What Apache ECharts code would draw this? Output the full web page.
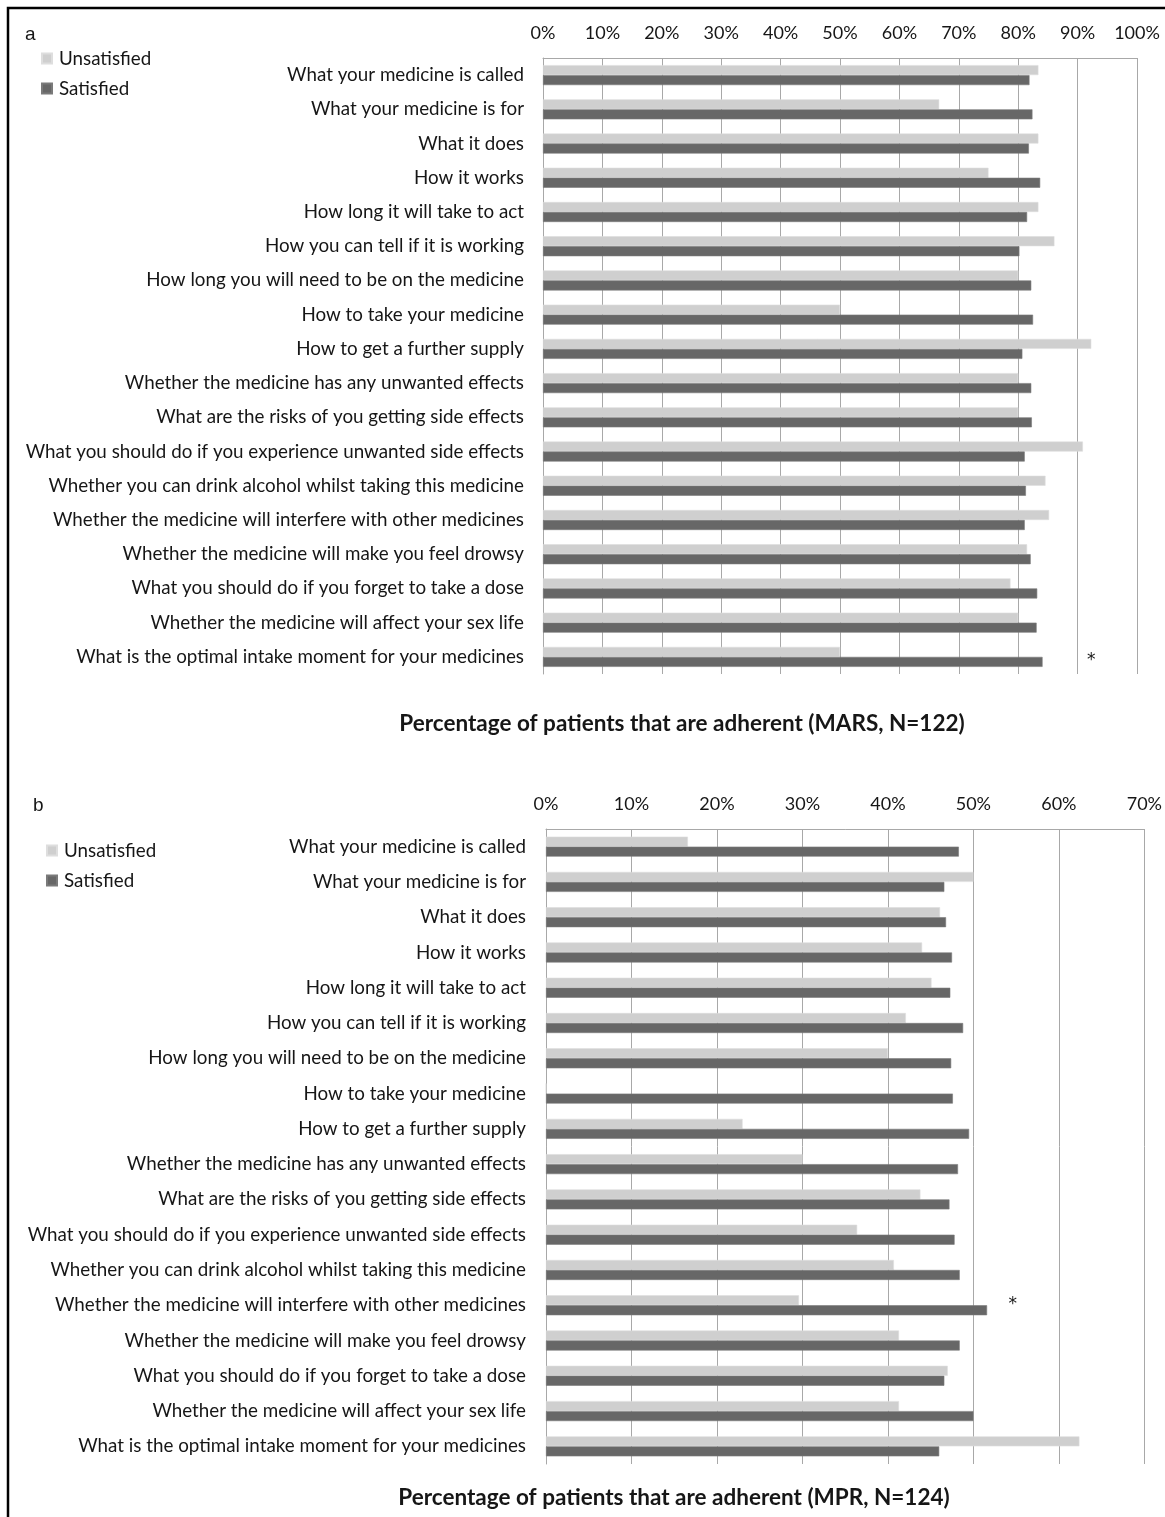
<!DOCTYPE html>
<html>
<head>
<meta charset="utf-8">
<title>Adherence by satisfaction with medicine information</title>
<script src="https://cdn.jsdelivr.net/npm/echarts@6/dist/echarts.min.js"></script>
<style>
  html, body { margin: 0; padding: 0; background: #fff; }
  #chart { width: 1165px; height: 1517px; }
</style>
</head>
<body>
<div id="chart"></div>
<script>
// Information items asked about in the questionnaire (top to bottom)
const categories = [
  'What your medicine is called',
  'What your medicine is for',
  'What it does',
  'How it works',
  'How long it will take to act',
  'How you can tell if it is working',
  'How long you will need to be on the medicine',
  'How to take your medicine',
  'How to get a further supply',
  'Whether the medicine has any unwanted effects',
  'What are the risks of you getting side effects',
  'What you should do if you experience unwanted side effects',
  'Whether you can drink alcohol whilst taking this medicine',
  'Whether the medicine will interfere with other medicines',
  'Whether the medicine will make you feel drowsy',
  'What you should do if you forget to take a dose',
  'Whether the medicine will affect your sex life',
  'What is the optimal intake moment for your medicines'
];

const seriesNames = ['Unsatisfied', 'Satisfied'];

// Panel a: % adherent by MARS (N=122)
const marsUnsatisfied = [83.4, 66.7, 83.4, 75.0, 83.4, 86.1, 80.0, 50.0, 92.3, 80.0, 80.0, 90.9, 84.6, 85.2, 81.5, 78.7, 80.0, 50.0];
const marsSatisfied   = [81.9, 82.4, 81.8, 83.7, 81.5, 80.2, 82.2, 82.5, 80.7, 82.2, 82.3, 81.1, 81.3, 81.1, 82.1, 83.2, 83.1, 84.1];

// Panel b: % adherent by MPR (N=124)
const mprUnsatisfied = [16.6, 50.0, 46.1, 44.0, 45.1, 42.1, 40.0, 0, 23.0, 30.0, 43.8, 36.4, 40.7, 29.6, 41.3, 47.0, 41.3, 62.4];
const mprSatisfied   = [48.3, 46.6, 46.8, 47.5, 47.3, 48.8, 47.4, 47.6, 49.5, 48.2, 47.2, 47.8, 48.4, 51.6, 48.4, 46.6, 50.0, 46.0];

// Axis ranges (percent) and tick step
const marsAxisMax = 100;
const mprAxisMax = 70;
const tickStep = 10;

// Items with a significant difference (marked with *)
const marsSignificantItem = 'What is the optimal intake moment for your medicines';
const mprSignificantItem = 'Whether the medicine will interfere with other medicines';

const panelTitles = [
  'Percentage of patients that are adherent (MARS, N=122)',
  'Percentage of patients that are adherent (MPR, N=124)'
];
const panelLetters = ['a', 'b'];

const FONT = 'Lato, "Open Sans", sans-serif';
const TEXT = '#161616';
const GRID_LINE = '#a8a8a8';
const COLOR_UNSAT = '#cfcfcf';
const COLOR_SAT = '#676767';

function xAxisFor(gridIndex, max) {
  return {
    type: 'value', gridIndex: gridIndex, position: 'top',
    min: 0, max: max, interval: tickStep,
    axisLine: { show: true, lineStyle: { color: GRID_LINE, width: 1 } },
    axisTick: { show: false },
    axisLabel: { color: TEXT, fontFamily: FONT, fontSize: 18, margin: 16, formatter: '{value}%' },
    splitLine: { show: true, lineStyle: { color: GRID_LINE, width: 1 } }
  };
}

function yAxisFor(gridIndex, margin) {
  return {
    type: 'category', gridIndex: gridIndex, data: categories, inverse: true,
    axisLine: { show: true, lineStyle: { color: GRID_LINE, width: 1 } },
    axisTick: { show: false },
    axisLabel: { color: TEXT, fontFamily: FONT, fontSize: 18.8, margin: margin, interval: 0 },
    splitLine: { show: false }
  };
}

function barSeries(name, data, idx, color, border) {
  return {
    name: name, type: 'bar', xAxisIndex: idx, yAxisIndex: idx,
    data: data, barWidth: 10, barGap: '0%',
    itemStyle: { color: color, borderColor: border, borderWidth: 0.6 },
    emphasis: { disabled: true },
    silent: true
  };
}

function starMark(xValue, item, dy) {
  return {
    symbol: 'circle', symbolSize: 0, silent: true,
    label: { show: true, formatter: '*', color: TEXT, fontFamily: '"DejaVu Sans", sans-serif', fontSize: 17, position: 'inside', offset: [0, dy] },
    data: [{ coord: [xValue, item] }]
  };
}

const marsUnsatSeries = barSeries(seriesNames[0], marsUnsatisfied, 0, COLOR_UNSAT, '#dedede');
const marsSatSeries = barSeries(seriesNames[1], marsSatisfied, 0, COLOR_SAT, '#7a7a7a');
marsSatSeries.markPoint = starMark(92.3, marsSignificantItem, -1);

const mprUnsatSeries = barSeries(seriesNames[0], mprUnsatisfied, 1, COLOR_UNSAT, '#dedede');
const mprSatSeries = barSeries(seriesNames[1], mprSatisfied, 1, COLOR_SAT, '#7a7a7a');
mprSatSeries.markPoint = starMark(54.6, mprSignificantItem, -6);

function legendAt(left, top) {
  return {
    data: seriesNames, orient: 'vertical', left: left, top: top,
    icon: 'rect', itemWidth: 10, itemHeight: 10, itemGap: 11,
    selectedMode: false,
    textStyle: { color: TEXT, fontFamily: FONT, fontSize: 18.8, padding: [0, 0, 0, 2] }
  };
}

const option = {
  backgroundColor: '#ffffff',
  animation: false,
  grid: [
    { left: 543, top: 58, width: 594, height: 616, containLabel: false },
    { left: 546, top: 829, width: 599, height: 635, containLabel: false }
  ],
  xAxis: [xAxisFor(0, marsAxisMax), xAxisFor(1, mprAxisMax)],
  yAxis: [yAxisFor(0, 19), yAxisFor(1, 20)],
  legend: [legendAt(36, 44), legendAt(41, 836)],
  title: [
    { text: panelTitles[0], left: 677, top: 707, textAlign: 'center',
      textStyle: { color: TEXT, fontFamily: FONT, fontSize: 22.5, fontWeight: 'bold' } },
    { text: panelTitles[1], left: 669, top: 1481, textAlign: 'center',
      textStyle: { color: TEXT, fontFamily: FONT, fontSize: 22.5, fontWeight: 'bold' } },
    { text: panelLetters[0], left: 20, top: 20,
      textStyle: { color: TEXT, fontFamily: '"Liberation Sans", Arial, sans-serif', fontSize: 19, fontWeight: 'normal' } },
    { text: panelLetters[1], left: 28, top: 791,
      textStyle: { color: TEXT, fontFamily: '"Liberation Sans", Arial, sans-serif', fontSize: 19, fontWeight: 'normal' } }
  ],
  graphic: [
    // outer frame (top and left edges visible)
    { type: 'rect', silent: true, z: 100,
      shape: { x: 8, y: 8, width: 1300, height: 1700 },
      style: { fill: 'none', stroke: '#000', lineWidth: 2.5 } }
  ],
  series: [marsUnsatSeries, marsSatSeries, mprUnsatSeries, mprSatSeries]
};

const chart = echarts.init(document.getElementById('chart'), null, { renderer: 'canvas' });
chart.setOption(option);
</script>
</body>
</html>
